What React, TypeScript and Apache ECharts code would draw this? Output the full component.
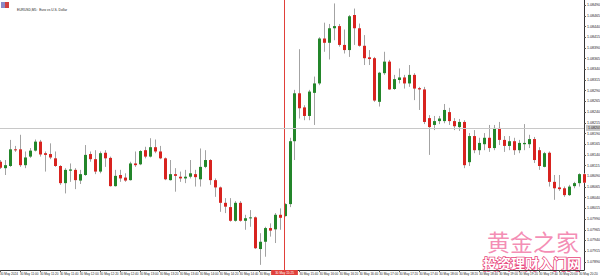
import React, { useEffect, useRef } from "react";
import * as echarts from "echarts";

const TITLE = "EURUSD,M5:  Euro vs U.S. Dollar";
const DAY = "30 May";
const FIRST_LABEL = "30 May 2024";
const START_TIME = "10:40";
const STEP_MIN = 5;

const opens = [
  1.08124, 1.08109, 1.08114, 1.08153, 1.08153, 1.08116, 1.08136, 1.08150, 1.08171, 1.08144,
  1.08142, 1.08132, 1.08114, 1.08074, 1.08103, 1.08105, 1.08080, 1.08093, 1.08142, 1.08130,
  1.08101, 1.08145, 1.08133, 1.08067, 1.08093, 1.08087, 1.08081, 1.08120, 1.08118, 1.08151,
  1.08136, 1.08158, 1.08148, 1.08132, 1.08081, 1.08095, 1.08089, 1.08085, 1.08089, 1.08095,
  1.08083, 1.08112, 1.08128, 1.08081, 1.08064, 1.08028, 1.08018, 1.07986, 1.08028, 1.07986,
  1.07992, 1.07994, 1.07920, 1.07937, 1.07969, 1.07966, 1.08000, 1.07997, 1.08025, 1.08172,
  1.08284, 1.08251, 1.08231, 1.08285, 1.08307, 1.08412, 1.08402, 1.08436, 1.08441, 1.08397,
  1.08385, 1.08467, 1.08436, 1.08395, 1.08368, 1.08366, 1.08264, 1.08331, 1.08358, 1.08294,
  1.08315, 1.08321, 1.08307, 1.08327, 1.08296, 1.08293, 1.08226, 1.08210, 1.08219, 1.08219,
  1.08240, 1.08219, 1.08205, 1.08217, 1.08123, 1.08184, 1.08151, 1.08165, 1.08180, 1.08156,
  1.08203, 1.08175, 1.08161, 1.08172, 1.08151, 1.08165, 1.08165, 1.08177, 1.08151, 1.08112,
  1.08145, 1.08077, 1.08064, 1.08062, 1.08046, 1.08067, 1.08074, 1.08095,
];
const closes = [
  1.08110, 1.08116, 1.08153, 1.08151, 1.08116, 1.08134, 1.08150, 1.08171, 1.08141, 1.08140,
  1.08134, 1.08114, 1.08074, 1.08105, 1.08106, 1.08081, 1.08095, 1.08140, 1.08130, 1.08101,
  1.08144, 1.08132, 1.08067, 1.08091, 1.08085, 1.08080, 1.08120, 1.08116, 1.08149, 1.08136,
  1.08158, 1.08148, 1.08132, 1.08083, 1.08095, 1.08091, 1.08085, 1.08089, 1.08097, 1.08088,
  1.08112, 1.08128, 1.08081, 1.08064, 1.08028, 1.08019, 1.07986, 1.08028, 1.07986, 1.07992,
  1.07994, 1.07922, 1.07937, 1.07969, 1.07963, 1.08000, 1.07993, 1.08025, 1.08172, 1.08284,
  1.08249, 1.08231, 1.08288, 1.08307, 1.08412, 1.08402, 1.08436, 1.08441, 1.08397, 1.08385,
  1.08464, 1.08436, 1.08395, 1.08366, 1.08364, 1.08267, 1.08332, 1.08358, 1.08293, 1.08317,
  1.08321, 1.08307, 1.08327, 1.08295, 1.08293, 1.08217, 1.08205, 1.08219, 1.08225, 1.08245,
  1.08219, 1.08207, 1.08217, 1.08116, 1.08184, 1.08151, 1.08168, 1.08180, 1.08156, 1.08203,
  1.08175, 1.08161, 1.08172, 1.08151, 1.08168, 1.08168, 1.08177, 1.08128, 1.08114, 1.08144,
  1.08077, 1.08062, 1.08060, 1.08046, 1.08066, 1.08074, 1.08095, 1.08075,
];
const lows = [
  1.08107, 1.08093, 1.08112, 1.08147, 1.08112, 1.08109, 1.08133, 1.08148, 1.08136, 1.08101,
  1.08130, 1.08112, 1.08070, 1.08050, 1.08077, 1.08060, 1.08072, 1.08091, 1.08124, 1.08095,
  1.08097, 1.08112, 1.08066, 1.08066, 1.08077, 1.08077, 1.08080, 1.08112, 1.08116, 1.08132,
  1.08134, 1.08144, 1.08130, 1.08081, 1.08080, 1.08054, 1.08077, 1.08074, 1.08085, 1.08066,
  1.08066, 1.08109, 1.08070, 1.08042, 1.08007, 1.08004, 1.07984, 1.07984, 1.07984, 1.07965,
  1.07972, 1.07920, 1.07883, 1.07902, 1.07949, 1.07934, 1.07965, 1.07996, 1.08018, 1.08128,
  1.08225, 1.08221, 1.08221, 1.08210, 1.08303, 1.08381, 1.08363, 1.08408, 1.08393, 1.08377,
  1.08369, 1.08397, 1.08393, 1.08350, 1.08350, 1.08264, 1.08253, 1.08327, 1.08292, 1.08292,
  1.08307, 1.08295, 1.08299, 1.08268, 1.08245, 1.08212, 1.08140, 1.08198, 1.08212, 1.08214,
  1.08210, 1.08198, 1.08196, 1.08109, 1.08114, 1.08144, 1.08140, 1.08151, 1.08147, 1.08151,
  1.08163, 1.08147, 1.08151, 1.08140, 1.08144, 1.08151, 1.08156, 1.08121, 1.08105, 1.08111,
  1.08066, 1.08035, 1.08056, 1.08042, 1.08044, 1.08062, 1.08066, 1.08074,
];
const highs = [
  1.08128, 1.08128, 1.08175, 1.08161, 1.08187, 1.08148, 1.08156, 1.08176, 1.08175, 1.08148,
  1.08167, 1.08148, 1.08116, 1.08109, 1.08120, 1.08109, 1.08105, 1.08163, 1.08148, 1.08151,
  1.08148, 1.08151, 1.08136, 1.08105, 1.08105, 1.08097, 1.08124, 1.08148, 1.08151, 1.08159,
  1.08179, 1.08176, 1.08161, 1.08134, 1.08128, 1.08109, 1.08101, 1.08105, 1.08128, 1.08105,
  1.08155, 1.08151, 1.08130, 1.08085, 1.08066, 1.08039, 1.08039, 1.08032, 1.08032, 1.08000,
  1.08011, 1.07996, 1.07957, 1.07972, 1.07980, 1.08004, 1.08015, 1.08027, 1.08180, 1.08292,
  1.08387, 1.08256, 1.08292, 1.08323, 1.08415, 1.08449, 1.08446, 1.08494, 1.08446, 1.08433,
  1.08467, 1.08482, 1.08447, 1.08420, 1.08385, 1.08369, 1.08334, 1.08381, 1.08362, 1.08327,
  1.08342, 1.08327, 1.08350, 1.08331, 1.08299, 1.08299, 1.08233, 1.08231, 1.08231, 1.08259,
  1.08250, 1.08226, 1.08224, 1.08221, 1.08191, 1.08198, 1.08180, 1.08191, 1.08210, 1.08210,
  1.08217, 1.08184, 1.08184, 1.08180, 1.08175, 1.08212, 1.08187, 1.08182, 1.08158, 1.08147,
  1.08148, 1.08093, 1.08093, 1.08066, 1.08070, 1.08077, 1.08097, 1.08097,
];

const priceTicks = [
  1.0849, 1.08465, 1.0844, 1.08415, 1.0839, 1.08365, 1.0834, 1.08315, 1.0829, 1.08265,
  1.0824, 1.08215, 1.0819, 1.08165, 1.0814, 1.08115, 1.0809, 1.08065, 1.0804, 1.08015,
  1.0799, 1.07965, 1.0794, 1.07915, 1.0789,
];
const Y_MIN = 1.07871;
const Y_MAX = 1.08502;
const currentPrice = 1.08203;
const markedBar = 57;
const LABEL_EVERY = 4;

const BULL = "#23862a";
const BEAR = "#d8231f";
const WICK = "#a3a3a3";

function pad(n: number) {
  return n < 10 ? "0" + n : "" + n;
}
const [sh, sm] = START_TIME.split(":").map(Number);
const times = opens.map((_, i) => {
  const t = sh * 60 + sm + i * STEP_MIN;
  return pad(Math.floor(t / 60)) + ":" + pad(t % 60);
});

export default function App() {
  const ref = useRef<HTMLDivElement>(null);
  useEffect(() => {
    if (!ref.current) return;
    const chart = echarts.init(ref.current, undefined, { renderer: "svg" });
    const data = opens.map((o, i) => [i, o, closes[i], lows[i], highs[i]]);
    const font = "Liberation Sans, DejaVu Sans, sans-serif";
    // labels fully hidden under the red time marker are not drawn
    const showLabel = (i: number) =>
      i % LABEL_EVERY === 0 && !(i > markedBar - LABEL_EVERY && i <= markedBar);
    chart.setOption({
      animation: false,
      backgroundColor: "#ffffff",
      grid: { left: 0, right: 16, top: 0, bottom: 6, containLabel: false, outerBoundsMode: "none" },
      title: {
        text: TITLE,
        left: 12,
        top: 3,
        textStyle: { fontSize: 3.3, fontWeight: "normal", color: "#222", fontFamily: font },
      },
      xAxis: {
        type: "category",
        data: times,
        boundaryGap: false,
        axisLine: { lineStyle: { color: "#333", width: 1 } },
        axisTick: { show: true, interval: LABEL_EVERY - 1, length: 2, lineStyle: { color: "#555" } },
        axisLabel: {
          interval: (i: number) => showLabel(i),
          fontSize: 3.1,
          color: "#222",
          align: "left",
          margin: 2,
          fontFamily: font,
          hideOverlap: false,
          formatter: (v: string, i: number) => (i === 0 ? FIRST_LABEL : DAY + " " + v),
        },
        splitLine: { show: false },
      },
      yAxis: {
        type: "value",
        position: "right",
        min: Y_MIN,
        max: Y_MAX,
        scale: true,
        axisLine: { show: true, lineStyle: { color: "#333", width: 1 } },
        axisTick: { show: true, length: 2, customValues: priceTicks, lineStyle: { color: "#555" } },
        axisLabel: {
          customValues: priceTicks,
          fontSize: 3.6,
          color: "#222",
          margin: 3,
          fontFamily: font,
          formatter: (v: number) => v.toFixed(5),
        },
        splitLine: { show: false },
      },
      graphic: [
        { type: "rect", shape: { x: 1, y: 2, width: 4, height: 6 }, style: { fill: "#8a8ac8" } },
        { type: "rect", shape: { x: 5, y: 2, width: 4, height: 6 }, style: { fill: "#d04040" } },
        {
          type: "text",
          x: 487,
          y: 229,
          style: {
            text: "黄金之家",
            fontSize: 23,
            fontFamily: "Noto Sans CJK SC",
            fill: "#f27aa8",
            opacity: 0.85,
          },
        },
        {
          type: "text",
          x: 483,
          y: 256,
          style: {
            text: "投资理财入门网",
            fontSize: 14,
            fontWeight: "bold",
            fontFamily: "Noto Sans CJK SC",
            fill: "#ffffff",
            stroke: "#e8457a",
            lineWidth: 1.5,
          },
        },
      ],
      series: [
        {
          type: "custom",
          data,
          encode: { x: 0, y: [1, 2, 3, 4] },
          renderItem: (params: any, api: any) => {
            const i = api.value(0);
            const o = api.value(1);
            const c = api.value(2);
            const l = api.value(3);
            const h = api.value(4);
            const pO = api.coord([i, o]);
            const pC = api.coord([i, c]);
            const pL = api.coord([i, l]);
            const pH = api.coord([i, h]);
            const x = Math.round(pO[0]) + 0.5;
            const up = c >= o;
            const top = Math.min(pO[1], pC[1]);
            let hgt = Math.abs(pO[1] - pC[1]);
            if (hgt < 1) hgt = 1;
            return {
              type: "group",
              children: [
                {
                  type: "line",
                  shape: { x1: x, y1: pH[1], x2: x, y2: pL[1] },
                  style: { stroke: WICK, lineWidth: 1 },
                },
                {
                  type: "rect",
                  shape: { x: x - 1.5, y: top, width: 3, height: hgt },
                  style: { fill: up ? BULL : BEAR },
                },
              ],
            };
          },
        },
        {
          type: "line",
          data: [],
          symbol: "none",
          silent: true,
          markLine: {
            silent: true,
            precision: 5,
            symbol: ["none", "none"],
            animation: false,
            data: [
              {
                xAxis: markedBar,
                lineStyle: { color: "#e0403a", width: 1, type: "solid" },
                label: {
                  show: true,
                  position: "start",
                  distance: 0,
                  formatter: DAY + " " + times[markedBar],
                  backgroundColor: "#e0403a",
                  color: "#ffffff",
                  fontSize: 3.1,
                  padding: [1, 4],
                  fontFamily: font,
                },
              },
              {
                yAxis: currentPrice,
                lineStyle: { color: "#c8c8c8", width: 1, type: "solid" },
                label: {
                  show: true,
                  position: "end",
                  distance: 2,
                  formatter: currentPrice.toFixed(5),
                  backgroundColor: "#c8c8c8",
                  color: "#222",
                  fontSize: 3.6,
                  padding: [1, 2],
                  fontFamily: font,
                },
              },
            ],
          },
        },
      ],
    });
    return () => chart.dispose();
  }, []);
  return (
    <div
      ref={ref}
      style={{ position: "fixed", left: 0, top: 0, width: 600, height: 276, background: "#fff" }}
    />
  );
}
